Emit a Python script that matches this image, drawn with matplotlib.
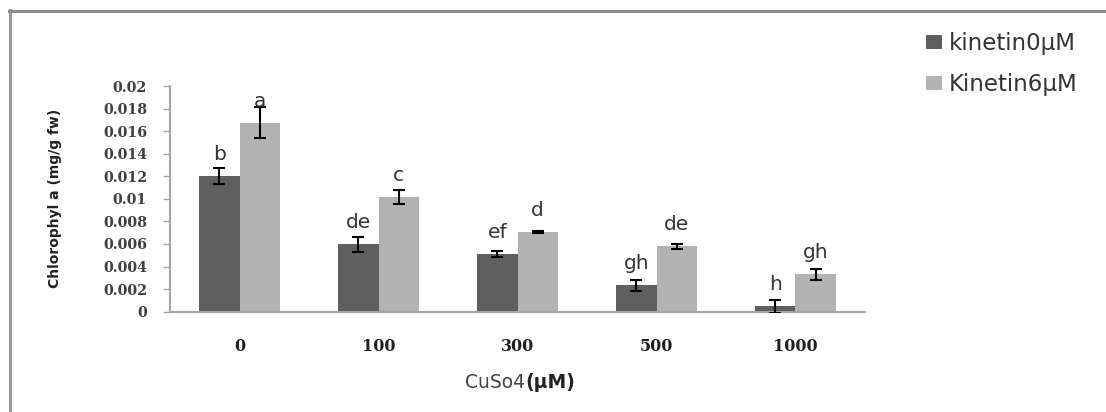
import matplotlib
matplotlib.use("Agg")
import matplotlib.pyplot as plt
from matplotlib.lines import Line2D
import numpy as np

categories = ["0", "100", "300", "500", "1000"]
kin0 = [0.01205, 0.00597, 0.00509, 0.00234, 0.00050]
kin0_err = [0.00070, 0.00066, 0.00025, 0.00047, 0.00058]
kin6 = [0.01675, 0.01014, 0.00709, 0.00582, 0.00331]
kin6_err = [0.00140, 0.00060, 0.00010, 0.00022, 0.00047]
kin0_letters = ["b", "de", "ef", "gh", "h"]
kin6_letters = ["a", "c", "d", "de", "gh"]
series_names = ["kinetin0\u03bcM", "Kinetin6\u03bcM"]
yticks = [0, 0.002, 0.004, 0.006, 0.008, 0.01, 0.012, 0.014, 0.016, 0.018, 0.02]
ytick_labels = ["0", "0.002", "0.004", "0.006", "0.008", "0.01", "0.012", "0.014", "0.016", "0.018", "0.02"]

W, H = 1106, 412
fig = plt.figure(figsize=(W / 100, H / 100), dpi=100)
ax = fig.add_axes([170 / W, 1 - 311.7 / H, (865 - 170) / W, (311.7 - 86) / H])

dark = "#5f5f5f"
light = "#b2b2b2"
x = np.arange(len(categories))
bw = 0.29
ax.bar(x - bw / 2, kin0, bw, color=dark, label=series_names[0], zorder=2)
ax.bar(x + bw / 2, kin6, bw, color=light, label=series_names[1], zorder=2)
ekw = dict(fmt="none", ecolor="black", elinewidth=1.5, capsize=4.3, capthick=1.5, zorder=3)
ax.errorbar(x - bw / 2, kin0, yerr=kin0_err, **ekw)
ax.errorbar(x + bw / 2, kin6, yerr=kin6_err, **ekw)

off = 0.00142
for xi, v, t in zip(x - bw / 2, kin0, kin0_letters):
    ax.text(xi, v + off, t, ha="center", va="baseline", fontsize=14.5,
            family="DejaVu Sans", color="#333333")
for xi, v, t in zip(x + bw / 2, kin6, kin6_letters):
    ax.text(xi, v + off, t, ha="center", va="baseline", fontsize=14.5,
            family="DejaVu Sans", color="#333333")

ax.set_xlim(-0.5, len(categories) - 0.5)
ax.set_ylim(0, 0.02)
ax.set_yticks(yticks)
ax.set_yticklabels(ytick_labels, family="DejaVu Serif", fontweight="bold",
                   fontsize=10.3, color="#404040")
ax.set_xticks(x)
ax.set_xticklabels(categories, family="DejaVu Serif", fontweight="bold",
                   fontsize=11.5, color="#202020")
ax.tick_params(axis="x", length=0, pad=19)
ax.tick_params(axis="y", length=5, width=1, color="#a6a6a6", pad=11.5)
for s in ["top", "right"]:
    ax.spines[s].set_visible(False)
for s in ["left", "bottom"]:
    ax.spines[s].set_color("#a6a6a6")
    ax.spines[s].set_linewidth(1.5)
ax.set_facecolor("white")

ax.set_ylabel("Chlorophyl a (mg/g fw)", family="DejaVu Sans", fontweight="bold",
              fontsize=10, color="#222222")
ax.yaxis.set_label_coords((62 - 170) / (865 - 170), 0.5)

# x label: regular + bold parts
fig.text(525 / W, 1 - 383 / H, "CuSo4", ha="right", va="center",
         family="DejaVu Sans", fontsize=13.5, color="#444444")
fig.text(525 / W, 1 - 383 / H, "(\u03bcM)", ha="left", va="center",
         family="DejaVu Sans", fontweight="bold", fontsize=13.5, color="#222222")

leg = fig.legend(loc="upper left", bbox_to_anchor=(926 / W, 1 - 32 / H),
                 frameon=False, handlelength=0.68, handleheight=0.55,
                 handletextpad=0.3, labelspacing=0.78, borderpad=0, borderaxespad=0,
                 prop={"family": "DejaVu Sans", "size": 16.5})
for t in leg.get_texts():
    t.set_color("#333333")

# chart frame (left and top)
fig.add_artist(Line2D([9.5 / W, 9.5 / W], [0, 1 - 10 / H], transform=fig.transFigure,
                      color="#9a9a9a", lw=2.2))
fig.add_artist(Line2D([8.5 / W, 1], [1 - 11 / H, 1 - 11 / H], transform=fig.transFigure,
                      color="#8c8c8c", lw=2.2))

fig.savefig("out.png", dpi=100, facecolor="white")
